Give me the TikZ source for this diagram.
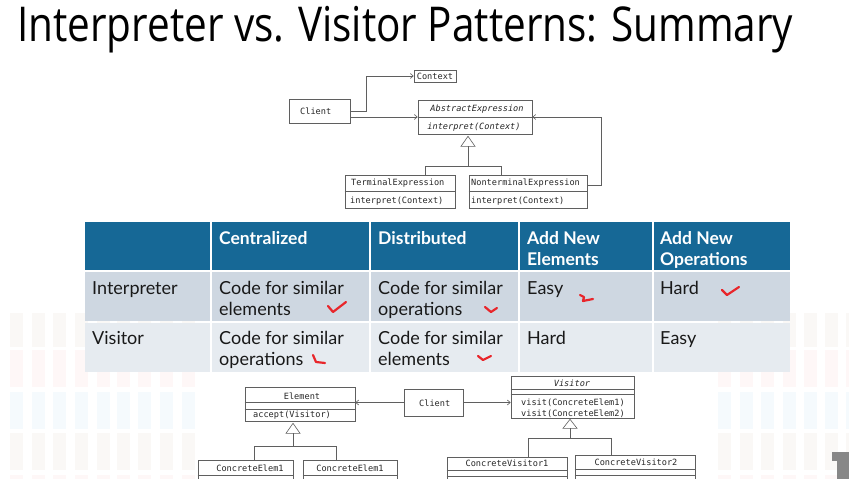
\documentclass[tikz,border=0pt]{standalone}
\usepackage{fontspec}
\setmainfont{Lato}
\newfontfamily\titlefont[FakeStretch=0.843]{Open Sans}
\newfontfamily\umlfont{DejaVu Sans Mono}
\usetikzlibrary{arrows.meta}
\definecolor{hdrblue}{RGB}{22,104,150}
\definecolor{rowone}{RGB}{206,215,225}
\definecolor{rowtwo}{RGB}{230,235,240}
\definecolor{tickred}{RGB}{232,38,43}
\definecolor{umlline}{RGB}{95,95,95}
\definecolor{barpink}{RGB}{254,247,247}
\definecolor{barblue}{RGB}{245,250,253}
\definecolor{barsand}{RGB}{250,248,246}
\definecolor{logogray}{RGB}{135,135,135}
\tikzset{
  umlbox/.style={draw=umlline, line width=0.6pt, fill=white, inner sep=0pt},
  umltext/.style={font=\umlfont\fontsize{8.6}{10}\selectfont, inner sep=0pt, text=black!85},
  umlital/.style={umltext, font=\umlfont\itshape\fontsize{8.6}{10}\selectfont},
  uline/.style={draw=umlline, line width=0.6pt},
  uarrow/.style={uline, -{Straight Barb[length=3pt,width=5pt]}},
  headtext/.style={font=\bfseries\fontsize{17.5}{21}\selectfont, text=white, inner sep=0pt, anchor=base west},
  celltext/.style={font=\fontsize{18}{21}\selectfont, text=black!90, inner sep=0pt, anchor=base west},
  tick/.style={draw=tickred, line width=2.2pt, line cap=round, line join=round},
}
\begin{document}
\begin{tikzpicture}[x=1pt,y=-1pt]
\useasboundingbox (0,0) rectangle (849,479);
\clip (0,0) rectangle (849,479);
\fill[white] (0,0) rectangle (849,479);

% faint bars of the slide background
\foreach \bx [count=\i] in {10,32,53,75,97,117,138,160,182,718,740,761,783,804,825,846} {
  \foreach \by/\bc in {313/barsand,350/barpink,392/barblue,433/barsand,475/barpink} {
    \fill[\bc] (\bx,\by) rectangle ++(13,\ifnum\by=313 34\else 37\fi);
  }
}
\fill[logogray] (832,452) rectangle (849,461);
\fill[logogray] (837,461) rectangle (849,479);

\node[font=\titlefont\fontsize{48}{48}\selectfont, anchor=base west, inner sep=0pt] (title) at (17,41) {Interpreter vs. Visitor Patterns: Summary};

% interpreter class diagram
\node[umlbox, minimum width=42, minimum height=12] (context) at (435,76) {};
\node[umltext] (contextname) at (435,76) {Context};
\node[umlbox, minimum width=61, minimum height=24] (client) at (319.5,111) {};
\node[umltext, anchor=west] (clientname) at (300,111.5) {Client};
\node[umlbox, minimum width=114, minimum height=34] (absexp) at (475,117) {};
\draw[uline] (absexp.west) -- (absexp.east);
\node[umlital] (absexpname) at (477,109) {AbstractExpression};
\node[umlital] (absexpop) at (474,127) {interpret(Context)};
\node[umlbox, minimum width=110, minimum height=33] (term) at (400,191.5) {};
\draw[uline] (term.west |- 0,191) -- (term.east |- 0,191);
\node[umltext, anchor=west] (termname) at (351,183) {TerminalExpression};
\node[umltext, anchor=west] (termop) at (350,201) {interpret(Context)};
\node[umlbox, minimum width=118, minimum height=33] (nonterm) at (528,191.5) {};
\draw[uline] (nonterm.west |- 0,191) -- (nonterm.east |- 0,191);
\node[umltext, anchor=west] (nontermname) at (471,183) {NonterminalExpression};
\node[umltext, anchor=west] (nontermop) at (471,201) {interpret(Context)};

\draw[uarrow] (client.east) -- ++(16,0) |- (context.west);
\draw[uarrow] (client.east |- absexp.west) -- (absexp.west);
\draw[uarrow] ([yshift=6.5pt]nonterm.east) -- ++(14,0) |- (absexp.east);
\coordinate (gen1) at ([xshift=-7pt,yshift=-12pt]absexp.south);
\draw[uline] (gen1) ++(-7,0) -- ++(7,-10) -- ++(7,10) -- cycle;
\draw[uline] (gen1) -- ++(0,20) coordinate (join1);
\draw[uline] ([xshift=25pt]term.north) |- (join1) -| ([xshift=-27pt]nonterm.north);

% the table
\foreach \xa/\xb in {85/210,212/369,371/518,520/652,654/790} {
  \fill[hdrblue] (\xa,222) rectangle (\xb,270);
  \fill[rowone] (\xa,272) rectangle (\xb,321);
  \fill[rowtwo] (\xa,323) rectangle (\xb,372);
}
\foreach \tx/\ty/\tt [count=\n] in {219/244/Centralized,378/244/Distributed,527/244/Add New,527/265/Elements,660/244/Add New,660/265/Operations}
  \node[headtext] (head\n) at (\tx,\ty) {\tt};
\foreach \tx/\ty/\tt [count=\n] in {92/294/Interpreter,219/294/Code for similar,219/315/elements,378/294/Code for similar,378/315/operations,527/294/Easy,660/294/Hard,
    92/344/Visitor,219/344/Code for similar,219/365/operations,378/344/Code for similar,378/365/elements,527/344/Hard,660/344/Easy}
  \node[celltext] (cell\n) at (\tx,\ty) {\tt};

% red ticks
\draw[tick] (328,306) -- (333,312) -- (346,302);
\draw[tick] (485,307) -- (491,312) -- (497,308);
\draw[tick] (580,295) -- (584,297) -- (583,301) -- (593,299);
\draw[tick] (722,290) -- (727,295) -- (739,287);
\draw[tick] (313,355) -- (316,362) -- (325,363);
\draw[tick] (478,356) -- (483,360) -- (491,356);

% visitor class diagram
\node[umlbox, minimum width=110, minimum height=34] (element) at (300,404) {};
\draw[uline] (element.west |- 0,402) -- (element.east |- 0,402);
\draw[uline] (element.west |- 0,409) -- (element.east |- 0,409);
\node[umltext] (elementname) at (302,396) {Element};
\node[umltext, anchor=west] (elementop) at (253,415) {accept(Visitor)};
\node[umlbox, minimum width=59, minimum height=27] (client2) at (433.5,402.5) {};
\node[umltext, anchor=west] (client2name) at (419,403) {Client};
\node[umlbox, minimum width=123, minimum height=42] (visitor) at (572.5,397) {};
\draw[uline] (visitor.west |- 0,389) -- (visitor.east |- 0,389);
\draw[uline] (visitor.west |- 0,394) -- (visitor.east |- 0,394);
\node[umlital] (visitorname) at (572,383) {Visitor};
\node[umltext, anchor=west] (visitorop1) at (521,403) {visit(ConcreteElem1)};
\node[umltext, anchor=west] (visitorop2) at (521,414) {visit(ConcreteElem2)};

\node[umlbox, minimum width=95, minimum height=40] (celem1) at (245.5,480) {};
\draw[uline] (celem1.west |- 0,475) -- (celem1.east |- 0,475);
\node[umltext] (celem1name) at (250,468) {ConcreteElem1};
\node[umlbox, minimum width=94, minimum height=40] (celem2) at (350,480) {};
\draw[uline] (celem2.west |- 0,475) -- (celem2.east |- 0,475);
\node[umltext] (celem2name) at (350,468) {ConcreteElem1};
\node[umlbox, minimum width=120, minimum height=40] (cvis1) at (507,477) {};
\draw[uline] (cvis1.west |- 0,470) -- (cvis1.east |- 0,470);
\draw[uline] (cvis1.west |- 0,476) -- (cvis1.east |- 0,476);
\node[umltext] (cvis1name) at (507,463) {ConcreteVisitor1};
\node[umlbox, minimum width=120, minimum height=40] (cvis2) at (635,475) {};
\draw[uline] (cvis2.west |- 0,469) -- (cvis2.east |- 0,469);
\draw[uline] (cvis2.west |- 0,475) -- (cvis2.east |- 0,475);
\node[umltext] (cvis2name) at (636,462) {ConcreteVisitor2};

\draw[uarrow] (client2.west) -- (client2.west -| element.east);
\draw[uarrow] (client2.east) -- (client2.east -| visitor.west);
\coordinate (gen2) at ([xshift=-7pt,yshift=-12pt]element.south);
\draw[uline] (gen2) ++(-7,0) -- ++(7,-10) -- ++(7,10) -- cycle;
\draw[uline] (gen2) -- ++(0,13) coordinate (join2);
\draw[uline] ([xshift=8.5pt]celem1.north) |- (join2) -| ([xshift=-14pt]celem2.north);
\coordinate (gen3) at ([xshift=-2.5pt,yshift=-10pt]visitor.south);
\draw[uline] (gen3) ++(-7,0) -- ++(7,-9) -- ++(7,9) -- cycle;
\draw[uline] (gen3) -- ++(0,10) coordinate (join3);
\draw[uline] ([xshift=21pt]cvis1.north) |- (join3) -| ([xshift=-24pt]cvis2.north);
\end{tikzpicture}
\end{document}
